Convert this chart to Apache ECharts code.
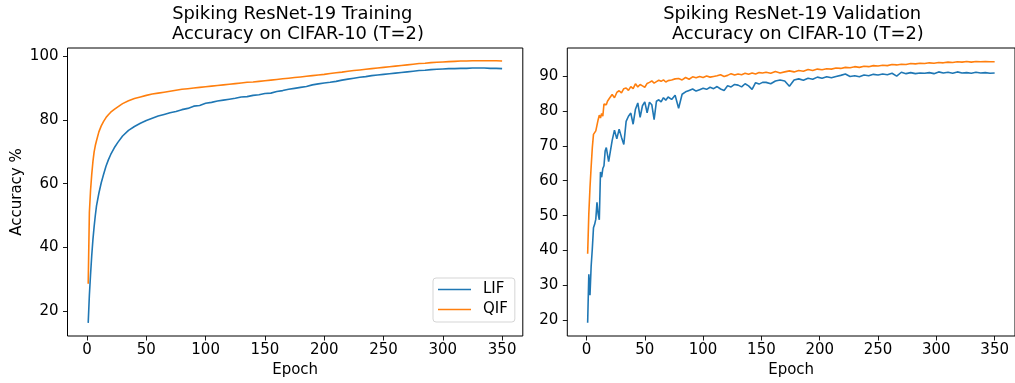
<!DOCTYPE html>
<html>
<head>
<meta charset="utf-8">
<title>Spiking ResNet-19 accuracy</title>
<script src="https://cdn.jsdelivr.net/npm/echarts@6/dist/echarts.min.js"></script>
<style>
html, body { margin: 0; padding: 0; background: #fff; }
#main { width: 1015px; height: 383px; }
</style>
</head>
<body>
<div id="main"></div>
<script>
// tick labels
var xTicks = [0, 50, 100, 150, 200, 250, 300, 350];
var yTicksTrain = [20, 40, 60, 80, 100];
var yTicksVal = [20, 30, 40, 50, 60, 70, 80, 90];

// training accuracy
var trainEpochs = [1, 2, 3, 4, 5, 6, 7, 8, 10, 12, 14, 16, 18, 20, 23, 26, 30, 35,
	40, 45, 50, 55, 60, 65, 70, 75, 80, 85, 90, 95, 100,
	105, 110, 115, 120, 125, 130, 135, 140, 145, 150, 155, 160, 165, 170, 175, 180, 185, 190, 195, 200,
	205, 210, 215, 220, 225, 230, 235, 240, 245, 250, 255, 260, 265, 270, 275, 280, 285, 290, 295, 300,
	305, 310, 315, 320, 325, 330, 335, 340, 345, 350];
var trainLif = [16.2, 25, 31.5, 37.5, 42.5, 46.5, 50, 53, 57, 60.3, 63, 65.5, 67.5, 69.2, 71.3, 73, 75, 76.8,
	78.0, 79.0, 79.9, 80.6, 81.3, 81.8, 82.3, 82.7, 83.3, 83.7, 84.4, 84.6, 85.3,
	85.6, 86.0, 86.3, 86.6, 86.9, 87.3, 87.4, 87.8, 88.0, 88.4, 88.5, 89.0, 89.3, 89.7, 90.0, 90.3, 90.6, 91.1, 91.4, 91.7,
	91.9, 92.2, 92.6, 92.9, 93.2, 93.5, 93.7, 94.0, 94.2, 94.4, 94.6, 94.8, 95.0, 95.2, 95.4, 95.6, 95.7, 95.9, 96.0, 96.1,
	96.2, 96.2, 96.3, 96.3, 96.4, 96.4, 96.4, 96.3, 96.3, 96.2];
var trainQif = [28.5, 51, 58, 63, 67, 70, 72, 73.5, 76.3, 78.2, 79.6, 80.8, 81.7, 82.5, 83.4, 84.2, 85.2, 86.1,
	86.8, 87.3, 87.8, 88.2, 88.5, 88.8, 89.1, 89.4, 89.7, 89.9, 90.1, 90.3, 90.5,
	90.7, 90.9, 91.1, 91.3, 91.5, 91.7, 91.9, 92.0, 92.2, 92.4, 92.6, 92.8, 93.0, 93.2, 93.4, 93.6, 93.8, 94.0, 94.2, 94.4,
	94.7, 94.9, 95.1, 95.4, 95.6, 95.8, 96.0, 96.2, 96.4, 96.6, 96.8, 97.0, 97.2, 97.4, 97.6, 97.8, 97.9, 98.1, 98.2, 98.3,
	98.4, 98.5, 98.6, 98.6, 98.7, 98.7, 98.7, 98.7, 98.7, 98.6];

// validation accuracy
var valEpochs = [1, 2, 3, 4, 5, 6, 7, 8, 9, 10, 11, 12, 13, 14, 15, 16, 17, 18, 19, 20,
	22, 24, 26, 28, 30, 32, 34, 36, 38, 40, 42, 44, 46, 48, 50, 52, 54, 56, 58, 60, 62, 64, 66, 68, 70,
	73, 76, 79, 82, 85, 88, 91, 94, 97, 100, 103, 106, 109, 112, 115, 118, 121, 124, 127, 130, 133, 136, 139, 142, 145, 148, 151,
	154, 158, 162, 166, 170, 174, 178, 182, 186, 190, 194, 198, 202, 206, 210, 214, 218, 222, 226, 230,
	234, 238, 242, 246, 250, 254, 258, 262, 266, 270, 274, 278, 282, 286, 290, 294, 298, 302, 306, 310,
	314, 318, 322, 326, 330, 334, 338, 342, 346, 350];
var valLif = [19.3, 33.2, 27.2, 35.5, 40.5, 46.5, 47.5, 49, 53.8, 50.5, 48.8, 62.5, 61, 63.5, 64.3, 68.5, 69.5, 69.3, 65.5, 66,
	71.5, 74.5, 72, 74.8, 72.5, 70.4, 77, 78.5, 79.4, 76.2, 80.5, 82.3, 78.2, 81.5, 82.6, 79.5, 82.5, 81.8, 77.5, 82.8, 83.2, 82.6, 83.8, 83.1, 84,
	83.3, 84.5, 80.8, 84.8, 85.5, 85.9, 86.3, 85.7, 86.1, 86.5, 86.2, 86.8, 86.4, 87, 86.3, 85.9, 87.2, 86.9, 87.6, 87.4, 86.9, 87.8, 87.2, 86.2, 88.1, 87.7, 88.2,
	88.2, 87.8, 88.6, 88.9, 88.6, 87.1, 88.9, 89.2, 88.8, 89.4, 89.1, 89.7, 89.4, 89.8, 89.5, 89.9, 90.2, 90.6, 89.9, 90.1,
	89.8, 90.3, 90.1, 90.5, 90.3, 90.6, 90.4, 90.8, 90.0, 91.1, 90.7, 91.0, 90.7, 90.9, 90.8, 91.0, 90.7, 91.2, 90.9, 91.1,
	90.8, 91.2, 90.9, 91.0, 90.8, 91.1, 90.9, 91.0, 90.8, 90.9];
var valQif = [39.1, 50.5, 58, 64, 69.5, 73.3, 73.8, 74.3, 74.7, 77.5, 78.8, 78, 79.3, 78.5, 82, 82.2, 81.8, 82.8, 83, 83.8,
	84.7, 83.8, 85.3, 85.8, 85.2, 86.4, 86.6, 85.9, 87, 86.4, 87.8, 86.9, 87.6, 87.2, 86.8, 87.9, 88.2, 88.6, 88, 88.4, 88.8, 88.5, 88.9, 88.3, 88.7,
	88.9, 89.2, 89.3, 88.9, 89.6, 89.1, 89.8, 89.5, 89.9, 89.6, 90, 89.7, 89.9, 90.1, 90.4, 89.9, 90.2, 90.7, 90.3, 90.6, 90.4, 90.8, 90.5, 90.9, 90.6, 91, 90.9,
	91.1, 90.8, 91.3, 90.9, 91.2, 91.5, 91.2, 91.6, 91.4, 91.9, 91.6, 92.0, 91.8, 92.1, 92.0, 92.3, 92.2, 92.5, 92.4, 92.7,
	92.5, 92.8, 92.7, 93.0, 92.9, 93.1, 93.0, 93.3, 93.2, 93.4, 93.3, 93.6, 93.5, 93.7, 93.6, 93.8, 93.7, 93.9, 93.8, 94.0,
	93.9, 94.1, 94.0, 94.2, 94.0, 94.2, 94.1, 94.2, 94.1, 94.1];

var FONT = 'DejaVu Sans';
var BLUE = '#1f77b4';
var ORANGE = '#ff7f0e';

function pairs(xs, ys) {
	var out = [];
	for (var i = 0; i < xs.length; i++) {
		out.push([xs[i], ys[i]]);
	}
	return out;
}

function xAxisFor(gridIndex) {
	return {
		type: 'value',
		gridIndex: gridIndex,
		position: 'bottom',
		min: -16.45,
		max: 367.45,
		name: 'Epoch',
		nameLocation: 'middle',
		nameGap: 26,
		nameTextStyle: { fontFamily: FONT, fontSize: 15, color: '#000' },
		splitLine: { show: false },
		axisLine: { show: false, onZero: false },
		axisTick: { show: true, inside: false, length: 4.5, lineStyle: { color: '#000', width: 0.9 }, customValues: xTicks },
		axisLabel: { fontFamily: FONT, fontSize: 15, color: '#000', margin: 7, customValues: xTicks }
	};
}

function yAxisFor(gridIndex, min, max, ticks, name) {
	return {
		type: 'value',
		gridIndex: gridIndex,
		position: 'left',
		min: min,
		max: max,
		name: name,
		nameLocation: 'middle',
		nameGap: 43,
		nameRotate: 90,
		nameTextStyle: { fontFamily: FONT, fontSize: 15, color: '#000' },
		splitLine: { show: false },
		axisLine: { show: false, onZero: false },
		axisTick: { show: true, inside: false, length: 4.5, lineStyle: { color: '#000', width: 0.9 }, customValues: ticks },
		axisLabel: { fontFamily: FONT, fontSize: 15, color: '#000', margin: 9, customValues: ticks }
	};
}

function lineSeries(name, color, gridIndex, data) {
	return {
		name: name,
		type: 'line',
		xAxisIndex: gridIndex,
		yAxisIndex: gridIndex,
		symbol: 'none',
		animation: false,
		lineStyle: { color: color, width: 1.6 },
		itemStyle: { color: color },
		data: data
	};
}

var chart = echarts.init(document.getElementById('main'), null, { renderer: 'canvas' });
var option = {
	animation: false,
	backgroundColor: '#fff',
	grid: [{
		left: 67.5, top: 48, width: 455.3, height: 288,
		show: true, borderColor: '#000', borderWidth: 1, backgroundColor: 'transparent'
	}, {
		left: 567.3, top: 48, width: 455.5, height: 288,
		show: true, borderColor: '#000', borderWidth: 1, backgroundColor: 'transparent'
	}],
	xAxis: [xAxisFor(0), xAxisFor(1)],
	yAxis: [
		yAxisFor(0, 12.08, 102.7, yTicksTrain, 'Accuracy %'),
		yAxisFor(1, 15.5, 98.05, yTicksVal, '')
	],
	legend: {
		orient: 'vertical',
		left: 433,
		top: 278,
		icon: 'rect',
		itemWidth: 33,
		itemHeight: 1.6,
		itemGap: 5,
		padding: [4, 7, 5, 5],
		borderColor: '#d5d5d5',
		borderWidth: 1,
		borderRadius: 3,
		backgroundColor: 'rgba(255,255,255,0.8)',
		textStyle: { fontFamily: FONT, fontSize: 15, color: '#000', padding: [0, 0, 0, 7] },
		data: ['LIF', 'QIF']
	},
	graphic: [{
		type: 'text',
		x: 295.1,
		y: 4,
		style: {
			text: 'Spiking ResNet-19 Training \n Accuracy on CIFAR-10 (T=2)',
			font: '17.9px "DejaVu Sans"',
			fill: '#000',
			align: 'center',
			lineHeight: 20.5
		}
	}, {
		type: 'text',
		x: 795,
		y: 4,
		style: {
			text: 'Spiking ResNet-19 Validation \n Accuracy on CIFAR-10 (T=2)',
			font: '17.9px "DejaVu Sans"',
			fill: '#000',
			align: 'center',
			lineHeight: 20.5
		}
	}],
	series: [
		lineSeries('LIF', BLUE, 0, pairs(trainEpochs, trainLif)),
		lineSeries('QIF', ORANGE, 0, pairs(trainEpochs, trainQif)),
		lineSeries('LIF', BLUE, 1, pairs(valEpochs, valLif)),
		lineSeries('QIF', ORANGE, 1, pairs(valEpochs, valQif))
	]
};
chart.setOption(option);
window.onresize = chart.resize;
</script>
</body>
</html>
